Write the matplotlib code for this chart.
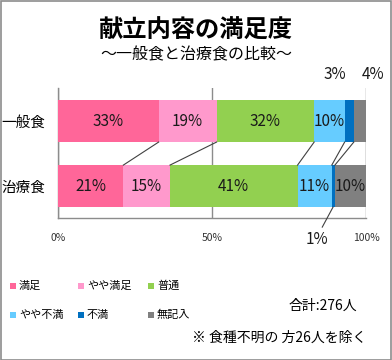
import matplotlib
matplotlib.use("Agg")
import matplotlib.pyplot as plt
import numpy as np
from matplotlib.patches import Rectangle

plt.rcParams['font.family'] = ['Noto Sans CJK JP', 'DejaVu Sans']

categories = ['一般食', '治療食']
series = ['満足', 'やや満足', '普通', 'やや不満', '不満', '無記入']
colors = ['#FF6699', '#FF99CC', '#92D050', '#66CCFF', '#0070C0', '#808080']
general = [33, 19, 32, 10, 3, 4]
therapy = [21, 15, 41, 11, 1, 10]
xticks = [0, 50, 100]
xticklabels = ['0%', '50%', '100%']

W, H = 392, 360
fig = plt.figure(figsize=(W / 100, H / 100), dpi=100)
fig.patch.set_facecolor('white')
fig.add_artist(Rectangle((0.5 / W, 0.5 / H), 1 - 1.5 / W, 1 - 1.5 / H, transform=fig.transFigure,
                         fill=False, edgecolor='#8c8c8c', linewidth=1.2))

ax = fig.add_axes([58 / W, 1 - 218 / H, 308 / W, 130 / H])
data = [general, therapy]
h = 0.646
cums = []
for i, vals in enumerate(data):
    v = np.array(vals, dtype=float)
    pct = v / v.sum() * 100
    left = np.concatenate([[0], np.cumsum(pct)[:-1]])
    cums.append(np.cumsum(pct))
    for j in range(len(v)):
        ax.barh(i, pct[j], left=left[j], height=h, color=colors[j], edgecolor='none', zorder=3)

# series lines
for j in range(len(series)):
    ax.plot([cums[0][j], cums[1][j]], [0 + h / 2, 1 - h / 2], color='#404040', lw=0.8, zorder=4)

# data labels
lab_kw = dict(fontsize=11, ha='center', va='center', color='#1a1a1a', zorder=5)
for i, vals in enumerate(data):
    v = np.array(vals, dtype=float)
    pct = v / v.sum() * 100
    left = np.concatenate([[0], np.cumsum(pct)[:-1]])
    for j in range(len(v)):
        txt = f'{vals[j]}%'
        c = left[j] + pct[j] / 2
        if pct[j] >= 5:
            ax.text(c, i, txt, **lab_kw)
# outside labels
ax.text(90.0, -0.71, f'{general[4]}%', fontsize=11, ha='center', va='center', color='#1a1a1a', clip_on=False)
ax.text(102.3, -0.71, f'{general[5]}%', fontsize=11, ha='center', va='center', color='#1a1a1a', clip_on=False)
ax.text(84.0, 1.82, f'{therapy[4]}%', fontsize=11, ha='center', va='center', color='#1a1a1a', clip_on=False)
ax.plot([cums[1][3] + 0.4, 85.8], [1 + h / 2, 1.63], color='#404040', lw=0.8, clip_on=False, zorder=4)

ax.set_xlim(0, 100)
ax.set_ylim(1.49, -0.508)
ax.set_yticks([0, 1])
ax.set_yticklabels(categories, fontsize=10.5)
ax.set_xticks(xticks)
ax.set_xticklabels(xticklabels, fontsize=7.5, color='#333333')
ax.tick_params(axis='y', length=0, pad=9)
ax.tick_params(axis='x', length=0, pad=11)
for s in ['top', 'right']:
    ax.spines[s].set_visible(False)
for s in ['left', 'bottom']:
    ax.spines[s].set_color('#8c8c8c')
    ax.spines[s].set_linewidth(1)
ax.xaxis.grid(True, color='#8c8c8c', lw=1, zorder=0)
ax.set_axisbelow(True)

fig.text(0.5, 1 - 31 / H, '献立内容の満足度', fontsize=17.5, fontweight='bold', ha='center', va='center')
fig.text(0.5, 1 - 55 / H, '～一般食と治療食の比較～', fontsize=11.5, ha='center', va='center')

# legend
leg_x = [10, 78, 148]
leg_y = [286, 315]
for k, name in enumerate(series):
    x = leg_x[k % 3]
    y = leg_y[k // 3]
    fig.add_artist(Rectangle((x / W, 1 - (y + 3) / H), 6 / W, 6 / H, transform=fig.transFigure,
                             facecolor=colors[k], edgecolor='none'))
    fig.text((x + 9) / W, 1 - y / H, name, fontsize=8, ha='left', va='center')

fig.text(323 / W, 1 - 306 / H, '合計:276人', fontsize=10, ha='center', va='center')
fig.text(366 / W, 1 - 338 / H, '※ 食種不明の 方26人を除く', fontsize=10, ha='right', va='center')

fig.savefig('out.png', dpi=100)
